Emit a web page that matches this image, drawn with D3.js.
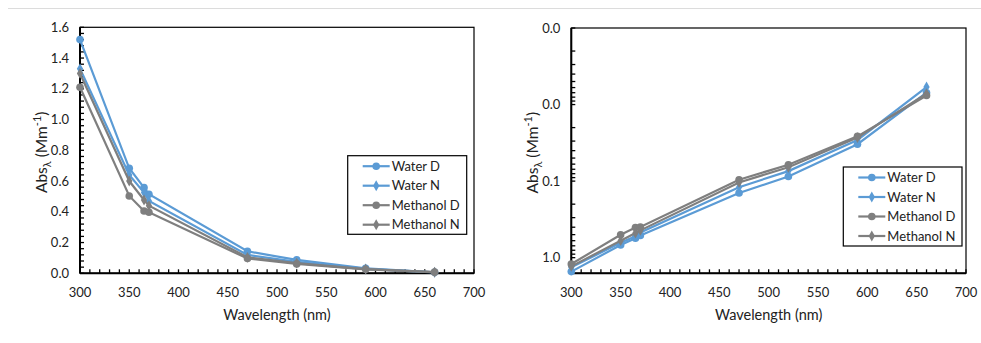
<!DOCTYPE html>
<html>
<head>
<meta charset="utf-8">
<script src="https://cdn.jsdelivr.net/npm/d3@7"></script>
<style>
  body { margin: 0; background: #fff; }
  text { font-family: Lato, "Open Sans", sans-serif; fill: #222; }
</style>
</head>
<body>
<div id="chart"></div>
<script>
const width = 981;
const height = 343;

// wavelengths (nm)
const wavelengths = [300, 350, 365, 370, 470, 520, 590, 660];
const waterD = [1.52, 0.683, 0.557, 0.514, 0.143, 0.087, 0.033, 0.0070];
const waterN = [1.33, 0.640, 0.525, 0.470, 0.120, 0.074, 0.029, 0.0059];
const methanolD = [1.21, 0.503, 0.405, 0.397, 0.096, 0.061, 0.026, 0.0076];
const methanolN = [1.30, 0.600, 0.477, 0.440, 0.104, 0.066, 0.027, 0.0072];

const seriesNames = ["Water D", "Water N", "Methanol D", "Methanol N"];
const seriesValues = [waterD, waterN, methanolD, methanolN];
const seriesColors = ["#5b9bd5", "#5b9bd5", "#7f7f7f", "#7f7f7f"];
const seriesMarkers = ["circle", "diamond", "circle", "diamond"];

const xTicks = [300, 350, 400, 450, 500, 550, 600, 650, 700];
const yTicksLin = [0, 0.2, 0.4, 0.6, 0.8, 1.0, 1.2, 1.4, 1.6];
const yTicksLog = [0.001, 0.01, 0.1, 1];

const svg = d3.select("#chart").append("svg")
    .attr("width", width).attr("height", height);

// page separator at the top
svg.append("line").attr("x1", 8).attr("x2", width).attr("y1", 8.5).attr("y2", 8.5)
    .attr("stroke", "#dcdcdc").attr("stroke-width", 1);

const series = seriesNames.map((name, i) => ({
    name, color: seriesColors[i], marker: seriesMarkers[i],
    points: wavelengths.map((w, j) => ({ x: w, y: seriesValues[i][j] }))
}));

function drawMarker(sel, type, color) {
    if (type === "circle") {
        sel.append("circle").attr("r", 3.8).attr("fill", color);
    } else {
        sel.append("path").attr("d", d3.symbol(d3.symbolDiamond, 34)()).attr("fill", color);
    }
}

function drawPanel(opts) {
    const { left, right, top, bottom, y, yTicks, minorY, legend } = opts;
    const g = svg.append("g");
    const x = d3.scaleLinear().domain([300, 700]).range([left, right]);

    // frame
    g.append("rect").attr("x", left).attr("y", top)
        .attr("width", right - left).attr("height", bottom - top)
        .attr("fill", "none").attr("stroke", "#000").attr("stroke-width", 1.2);

    // minor ticks (inside)
    const minorX = d3.range(300, 701, 10);
    g.selectAll(".mx").data(minorX).enter().append("line")
        .attr("x1", d => x(d)).attr("x2", d => x(d))
        .attr("y1", bottom).attr("y2", bottom - 4)
        .attr("stroke", "#000").attr("stroke-width", 1.3);
    g.selectAll(".my").data(minorY).enter().append("line")
        .attr("x1", left).attr("x2", left + 4)
        .attr("y1", d => y(d)).attr("y2", d => y(d))
        .attr("stroke", "#000").attr("stroke-width", 1.3);

    // axis lines
    g.append("line").attr("x1", left).attr("x2", right).attr("y1", bottom).attr("y2", bottom)
        .attr("stroke", "#000").attr("stroke-width", 2);
    g.append("line").attr("x1", left).attr("x2", left).attr("y1", top).attr("y2", bottom)
        .attr("stroke", "#000").attr("stroke-width", 2);

    // tick labels
    g.selectAll(".xl").data(xTicks).enter().append("text")
        .attr("x", d => x(d)).attr("y", bottom + 24)
        .attr("text-anchor", "middle").attr("font-size", 13)
        .text(d => d);
    g.selectAll(".yl").data(yTicks).enter().append("text")
        .attr("x", left - 11).attr("y", d => y(d) + 4.5)
        .attr("text-anchor", "end").attr("font-size", 13)
        .text(d => d3.format(".1f")(d));

    // titles
    g.append("text").attr("x", (left + right) / 2).attr("y", bottom + 47)
        .attr("text-anchor", "middle").attr("font-size", 14.5)
        .text("Wavelength (nm)");
    const yt = g.append("text")
        .attr("transform", `translate(${left - 33},${(top + bottom) / 2 + 2}) rotate(-90)`)
        .attr("text-anchor", "middle").attr("font-size", 15.5);
    yt.append("tspan").text("Abs");
    yt.append("tspan").attr("font-size", 11).attr("dy", 4).text("λ");
    yt.append("tspan").attr("dy", -4).text(" (Mm");
    yt.append("tspan").attr("font-size", 11).attr("dy", -6).text("-1");
    yt.append("tspan").attr("dy", 6).text(")");

    // lines + markers
    const line = d3.line().x(d => x(d.x)).y(d => y(d.y));
    const sg = g.selectAll(".series").data(series).enter().append("g");
    sg.append("path").attr("d", d => line(d.points))
        .attr("fill", "none").attr("stroke", d => d.color).attr("stroke-width", 2.2);
    sg.each(function (s) {
        d3.select(this).selectAll(".m").data(s.points).enter().append("g")
            .attr("transform", d => `translate(${x(d.x)},${y(d.y)})`)
            .each(function () { drawMarker(d3.select(this), s.marker, s.color); });
    });

    // legend
    const lg = g.append("g");
    lg.append("rect").attr("x", legend.x).attr("y", legend.y)
        .attr("width", legend.w).attr("height", legend.h)
        .attr("fill", "#fff").attr("stroke", "#000").attr("stroke-width", 1.2);
    series.forEach((s, i) => {
        const ly = legend.y + 10.5 + i * 19.5;
        const lx = legend.x + 15;
        lg.append("line").attr("x1", lx).attr("x2", lx + 27).attr("y1", ly).attr("y2", ly)
            .attr("stroke", s.color).attr("stroke-width", 2.2);
        drawMarker(lg.append("g").attr("transform", `translate(${lx + 13.5},${ly})`), s.marker, s.color);
        lg.append("text").attr("x", lx + 29).attr("y", ly + 4.5)
            .attr("font-size", 13).text(s.name);
    });
}

// left panel: linear
const yLin = d3.scaleLinear().domain([0, 1.6]).range([273.3, 27.3]);
drawPanel({
    left: 80, right: 474, top: 27.3, bottom: 273.3,
    y: yLin, yTicks: yTicksLin, minorY: d3.range(0, 1.601, 0.04),
    legend: { x: 347.7, y: 155.7, w: 119, h: 78.6 }
});

// right panel: reversed log
const yLog = d3.scaleLog().domain([0.001, 1.6]).range([28, 273.3]);
const minorLog = [];
[0.001, 0.01, 0.1, 1].forEach(p => d3.range(1, 10).forEach(k => { if (k * p <= 1.6) minorLog.push(k * p); }));
drawPanel({
    left: 571.3, right: 966, top: 28, bottom: 273.3,
    y: yLog, yTicks: yTicksLog, minorY: minorLog,
    legend: { x: 843.3, y: 167, w: 118.7, h: 79 }
});
</script>
</body>
</html>
